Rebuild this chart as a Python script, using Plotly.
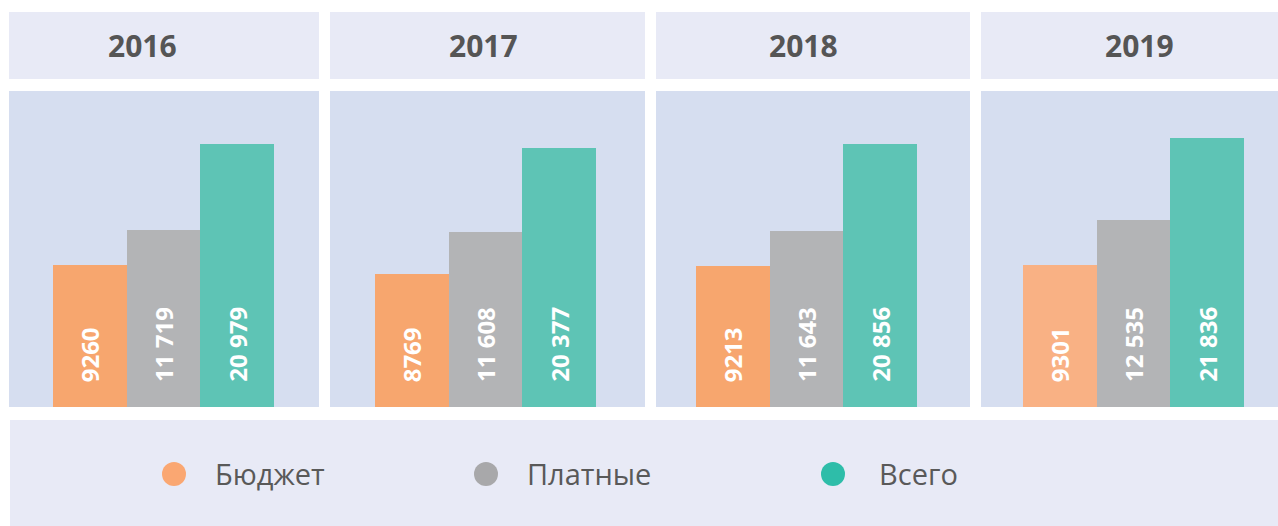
import plotly.graph_objects as go

# ---- data ----
years = ["2016", "2017", "2018", "2019"]
series = ["Бюджет", "Платные", "Всего"]
budget = [9260, 8769, 9213, 9301]
paid = [11719, 11608, 11643, 12535]
total = [20979, 20377, 20856, 21836]

# ---- styling ----
W, H = 1278, 526
bar_colors = ["#F7A66E", "#B3B4B6", "#5EC4B5"]
bar_colors_last = ["#F9B184", "#B3B4B6", "#5EC4B5"]
legend_colors = ["#FAA772", "#A8A8AA", "#2EBDA9"]
header_bg = "#E8EAF6"
panel_bg = "#D6DEF0"
text_gray = "#555555"


def px(x):
    return x / W


def py(y):
    return 1 - y / H


def fmt(v):
    return str(v) if v < 10000 else f"{v:,}".replace(",", " ")


# panel pixel extents (left, right) and x-axis ranges in bar units
panels = [
    (9, 319, (-1.097, 3.111)),
    (330, 645, (-1.111, 3.165)),
    (656, 970, (-1.043, 3.219)),
    (981, 1278, (-1.070, 2.962)),
]
header_text_x = [142, 483, 803.5, 1139]
panel_top, panel_bottom = 91, 407
header_top, header_bottom = 12, 79
y_range = [3.554, 4.475]  # log10 scale

fig = go.Figure()
layout = dict(
    width=W,
    height=H,
    margin=dict(l=0, r=0, t=0, b=0),
    paper_bgcolor="white",
    plot_bgcolor=panel_bg,
    showlegend=False,
    bargap=0,
    font=dict(family="Open Sans", color=text_gray),
)

shapes = []
annotations = []

for i, year in enumerate(years):
    n = "" if i == 0 else str(i + 1)
    left, right, xr = panels[i]
    values = [budget[i], paid[i], total[i]]
    colors = bar_colors_last if i == len(years) - 1 else bar_colors

    fig.add_trace(go.Bar(
        x=series,
        y=values,
        marker=dict(color=colors, line=dict(width=0)),
        xaxis="x" + n,
        yaxis="y" + n,
        hoverinfo="x+y",
    ))

    layout["xaxis" + n] = dict(
        domain=[px(left), px(right)],
        range=list(xr),
        showgrid=False, zeroline=False, showticklabels=False,
        showline=False, anchor="y" + n, fixedrange=True,
    )
    layout["yaxis" + n] = dict(
        domain=[py(panel_bottom), py(panel_top)],
        type="log",
        range=y_range,
        showgrid=False, zeroline=False, showticklabels=False,
        showline=False, anchor="x" + n, fixedrange=True,
    )

    # year header box
    shapes.append(dict(
        type="rect", xref="paper", yref="paper",
        x0=px(left), x1=px(right), y0=py(header_bottom), y1=py(header_top),
        fillcolor=header_bg, line=dict(width=0), layer="below",
    ))
    annotations.append(dict(
        text=f"<b>{year}</b>", xref="paper", yref="paper",
        x=px(header_text_x[i]), y=py(45.5), xanchor="center", yanchor="middle",
        showarrow=False, font=dict(family="Open Sans", size=30, color=text_gray),
    ))

    # value labels at the base of each bar, rotated
    for cat, v in zip(series, values):
        annotations.append(dict(
            text=f"<b>{fmt(v)}</b>", xref="x" + n, yref=f"y{n} domain",
            x=cat, y=0, xanchor="center", yanchor="bottom", yshift=23,
            textangle=-90, showarrow=False,
            font=dict(family="Open Sans", size=24, color="white"),
        ))

# legend band
shapes.append(dict(
    type="rect", xref="paper", yref="paper",
    x0=px(10), x1=px(1278), y0=py(526), y1=py(420),
    fillcolor=header_bg, line=dict(width=0), layer="below",
))
legend_circle_x = [174, 486, 833]
legend_text_x = [213, 525, 877]
legend_y = 474
r = 12
for name, c, cx, tx in zip(series, legend_colors, legend_circle_x, legend_text_x):
    shapes.append(dict(
        type="circle", xref="paper", yref="paper",
        x0=px(cx - r), x1=px(cx + r), y0=py(legend_y + r), y1=py(legend_y - r),
        fillcolor=c, line=dict(width=0),
    ))
    annotations.append(dict(
        text=name, xref="paper", yref="paper",
        x=px(tx), y=py(legend_y - 1), xanchor="left", yanchor="middle",
        showarrow=False, font=dict(family="Open Sans", size=29, color="#595959"),
    ))

layout["shapes"] = shapes
layout["annotations"] = annotations
fig.update_layout(**layout)

fig.write_html("out.html")
